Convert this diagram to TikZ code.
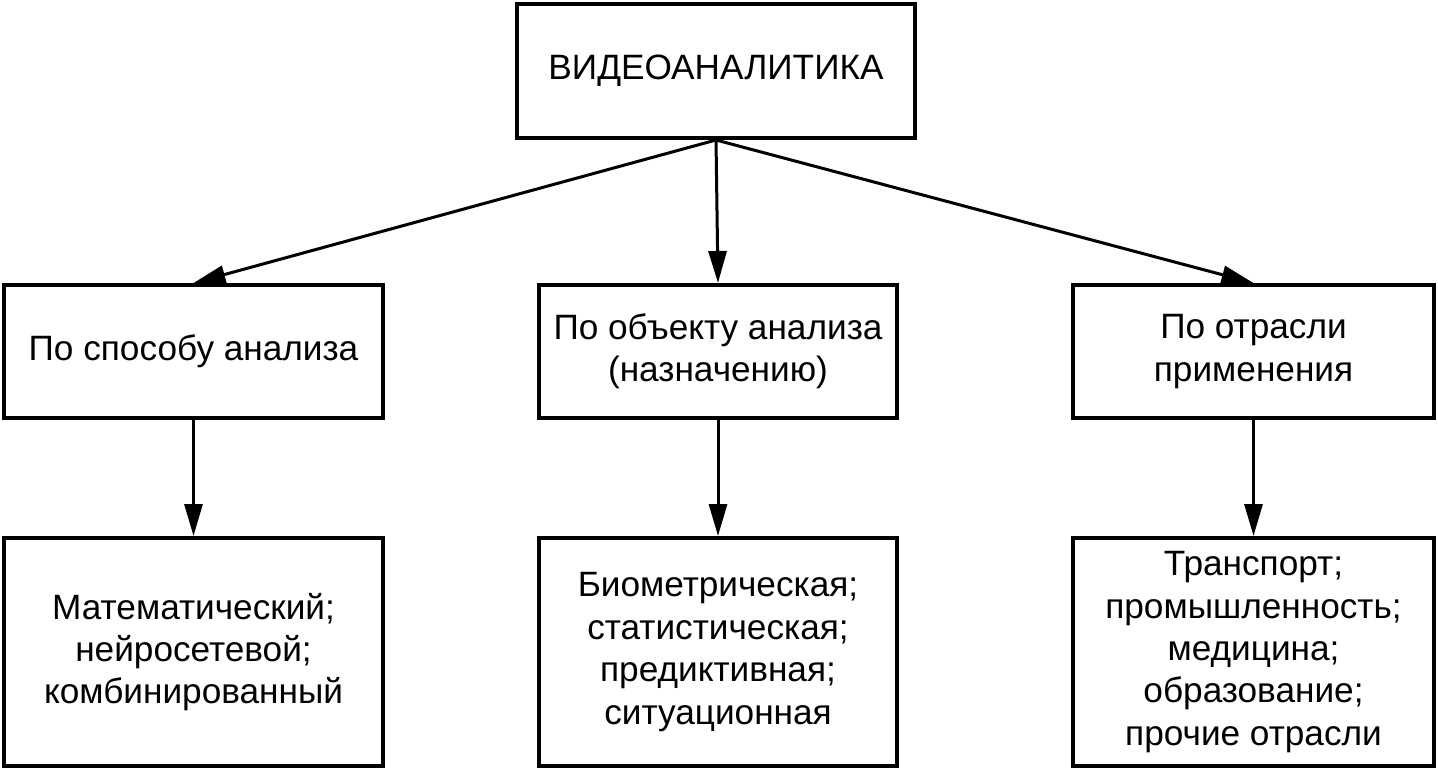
\documentclass[tikz,border=0pt]{standalone}
\usepackage{fontspec}
\setmainfont{Liberation Sans}
\usetikzlibrary{arrows.meta}
\usetikzlibrary{positioning}

\begin{document}
\begin{tikzpicture}[x=0.5pt,y=-0.5pt,
	box/.style={draw, line width=2pt, align=center, font=\fontsize{17.6}{21.2}\selectfont, inner sep=0pt},
	arr/.style={line width=1.5pt, -{Triangle[length=16pt, width=9pt]}}]
	\useasboundingbox (0,0) rectangle (1438,770);
	\node[box, minimum width=199pt, minimum height=67pt] (VA) at (716,71) {ВИДЕОАНАЛИТИКА};
	
	\node[box, minimum width=189.5pt, minimum height=66.5pt] (S) at (193.5,351.5) {По способу анализа};
	\node[box, minimum width=179pt, minimum height=66.5pt] (O) at (718,351.5) {По объекту анализа\\(назначению)};
	\node[box, minimum width=180.5pt, minimum height=66.5pt] (P) at (1253.5,351.5) {По отрасли\\применения};
	
	\node[box, minimum width=189.5pt, minimum height=114pt] (SB) at (193.5,652) {Математический;\\нейросетевой;\\комбинированный};
	\node[box, minimum width=179pt, minimum height=114pt] (OB) at (718,652) {Биометрическая;\\статистическая;\\предиктивная;\\ситуационная};
	\node[box, minimum width=180.5pt, minimum height=114pt] (PB) at (1253.5,652) {Транспорт;\\промышленность;\\медицина;\\образование;\\прочие отрасли};
	
	\draw[arr] (VA.south) -- (S.north);
	\draw[arr] (VA.south) -- (O.north);
	\draw[arr] (VA.south) -- (P.north);
	\draw[arr] (S) -- (SB);
	\draw[arr] (O) -- (OB);
	\draw[arr] (P) -- (PB);
\end{tikzpicture}
\end{document}
